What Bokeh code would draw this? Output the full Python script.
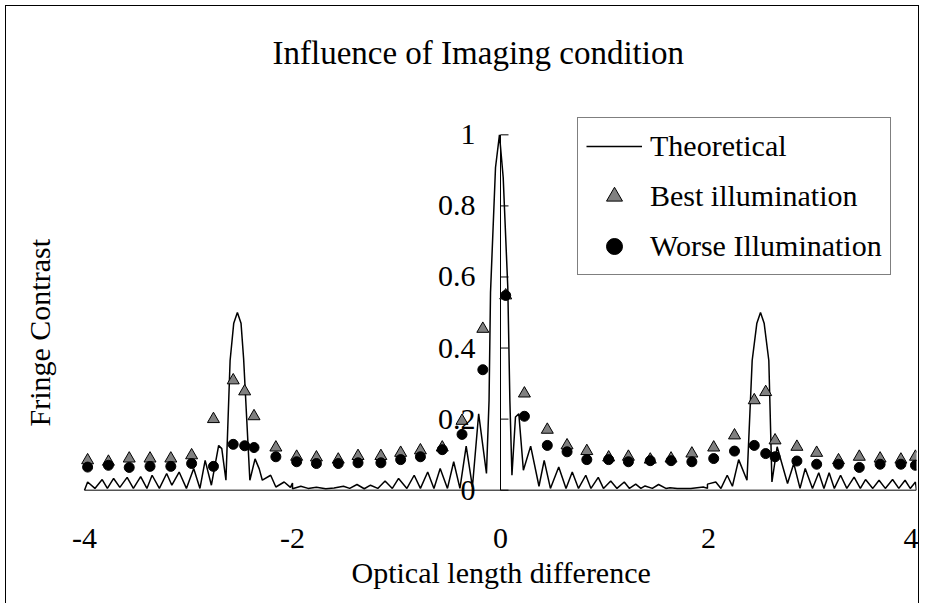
import math
from bokeh.plotting import figure
from bokeh.models import (ColumnDataSource, Legend, LegendItem, LabelSet,
                          FixedTicker, Title)
from bokeh.embed import file_html
from bokeh.resources import INLINE

# ---------------- data ----------------
x_theory = [-4.00, -3.97, -3.90, -3.83, -3.78, -3.72, -3.66, -3.59, -3.53, -3.46,
            -3.40, -3.35, -3.28, -3.21, -3.16, -3.09, -3.02, -2.95, -2.89, -2.84,
            -2.78, -2.71, -2.68, -2.64, -2.60, -2.565, -2.53, -2.495, -2.47, -2.41,
            -2.36, -2.32, -2.29, -2.21, -2.16, -2.08, -2.02, -2.00, -2.00, -1.92,
            -1.85, -1.77, -1.68, -1.60, -1.51, -1.45, -1.38, -1.31, -1.25, -1.18,
            -1.11, -1.04, -0.98, -0.90, -0.83, -0.77, -0.70, -0.64, -0.58, -0.51,
            -0.45, -0.39, -0.33, -0.27, -0.21, -0.135, -0.11, -0.096, -0.048, -0.01,
            0.026, 0.07, 0.09, 0.11, 0.144, 0.176, 0.22, 0.29, 0.37, 0.42,
            0.48, 0.56, 0.63, 0.69, 0.75, 0.82, 0.87, 0.94, 0.99, 1.06,
            1.12, 1.19, 1.24, 1.30, 1.35, 1.39, 1.46, 1.52, 1.59, 1.63,
            1.70, 1.83, 1.95, 1.99, 1.99, 2.07, 2.12, 2.18, 2.23, 2.29,
            2.37, 2.42, 2.465, 2.50, 2.535, 2.58, 2.61, 2.66, 2.76, 2.82,
            2.88, 2.93, 3.00, 3.06, 3.11, 3.16, 3.21, 3.27, 3.33, 3.40,
            3.46, 3.51, 3.58, 3.64, 3.70, 3.77, 3.83, 3.89, 3.94, 3.99,
            4.00]
y_theory = [0.000, 0.023, 0.005, 0.030, 0.005, 0.033, 0.008, 0.036, 0.005, 0.038,
            0.005, 0.042, 0.005, 0.047, 0.014, 0.051, 0.005, 0.061, 0.005, 0.084,
            0.014, 0.126, 0.117, 0.028, 0.365, 0.470, 0.500, 0.470, 0.370, 0.028,
            0.088, 0.060, 0.028, 0.042, 0.009, 0.023, 0.008, 0.020, 0.004, 0.011,
            0.005, 0.008, 0.004, 0.006, 0.011, 0.005, 0.016, 0.004, 0.014, 0.005,
            0.026, 0.005, 0.033, 0.005, 0.042, 0.005, 0.051, 0.005, 0.061, 0.005,
            0.080, 0.005, 0.124, 0.009, 0.215, 0.047, 0.253, 0.557, 0.908, 1.000,
            0.880, 0.571, 0.253, 0.042, 0.206, 0.215, 0.056, 0.124, 0.011, 0.084,
            0.005, 0.065, 0.005, 0.051, 0.005, 0.042, 0.005, 0.036, 0.005, 0.026,
            0.005, 0.023, 0.005, 0.017, 0.005, 0.012, 0.005, 0.016, 0.005, 0.007,
            0.005, 0.005, 0.009, 0.005, 0.017, 0.023, 0.005, 0.042, 0.011, 0.086,
            0.028, 0.365, 0.470, 0.500, 0.470, 0.365, 0.023, 0.122, 0.019, 0.075,
            0.005, 0.061, 0.005, 0.049, 0.005, 0.049, 0.005, 0.042, 0.005, 0.037,
            0.005, 0.030, 0.005, 0.028, 0.005, 0.030, 0.005, 0.028, 0.005, 0.023,
            0.000]

x_meas = [-3.97, -3.77, -3.57, -3.37, -3.17, -2.97, -2.76, -2.57, -2.46, -2.37,
          -2.16, -1.96, -1.77, -1.56, -1.37, -1.15, -0.96, -0.77, -0.56, -0.37,
          -0.17, 0.05, 0.23, 0.45, 0.64, 0.83, 1.04, 1.23, 1.44, 1.64,
          1.84, 2.05, 2.25, 2.44, 2.55, 2.64, 2.85, 3.04, 3.25, 3.45,
          3.65, 3.85, 3.99]
best_illum = [0.084, 0.080, 0.089, 0.089, 0.089, 0.098, 0.200, 0.309, 0.278, 0.208,
              0.120, 0.094, 0.092, 0.086, 0.096, 0.096, 0.105, 0.112, 0.120, 0.195,
              0.454, 0.548, 0.272, 0.170, 0.126, 0.110, 0.092, 0.094, 0.086, 0.089,
              0.103, 0.120, 0.154, 0.253, 0.276, 0.140, 0.122, 0.105, 0.084, 0.094,
              0.089, 0.086, 0.094]
worse_illum = [0.065, 0.070, 0.064, 0.067, 0.067, 0.075, 0.067, 0.129, 0.125, 0.120,
               0.094, 0.080, 0.075, 0.075, 0.077, 0.077, 0.086, 0.094, 0.114, 0.157,
               0.339, 0.548, 0.208, 0.126, 0.108, 0.086, 0.086, 0.080, 0.083, 0.083,
               0.080, 0.089, 0.110, 0.126, 0.103, 0.094, 0.082, 0.073, 0.073, 0.064,
               0.073, 0.073, 0.070]

x_ticks = [-4, -2, 0, 2, 4]
x_tick_labels = ["-4", "-2", "0", "2", "4"]
y_ticks = [0, 0.2, 0.4, 0.6, 0.8, 1.0]
y_tick_labels = ["0", "0.2", "0.4", "0.6", "0.8", "1"]

title_text = "Influence of Imaging condition"
x_title = "Optical length difference"
y_title = "Fringe Contrast"
series_names = ["Theoretical", "Best illumination", "Worse Illumination"]

FONT = "Liberation Serif"

# ---------------- figure ----------------
# frame spans a little beyond the data on the left and top so that the
# titles placed next to it land where the original has them
p = figure(width=914, height=598, x_range=(-4.2308, 4), y_range=(-0.06, 1.167),
           output_backend="svg", toolbar_location=None, y_axis_location=None,
           min_border_left=54, min_border_right=4, min_border_top=69,
           min_border_bottom=93)
p.styles = {"margin": "5px 0px 0px 5px",
            "border-left": "1px solid #000",
            "border-top": "1px solid #000",
            "border-right": "1px solid #000"}
p.grid.visible = False
p.outline_line_color = None
p.background_fill_color = "white"
p.border_fill_color = "white"

p.title = Title(text=title_text, align="left", offset=212, standoff=10,
                text_font=FONT, text_font_size="33px",
                text_font_style="normal", text_color="black")
p.add_layout(Title(text=y_title, align="left", offset=85, standoff=10,
                   text_font=FONT, text_font_size="30px",
                   text_font_style="normal", text_color="black"), "left")

xa = p.xaxis[0]
xa.ticker = FixedTicker(ticks=x_ticks)
xa.major_label_overrides = {t: s for t, s in zip(x_ticks, x_tick_labels)}
xa.major_tick_in = 0
xa.major_tick_out = 0
xa.minor_tick_in = 0
xa.minor_tick_out = 0
xa.major_label_standoff = 17
xa.major_label_text_font = FONT
xa.major_label_text_font_size = "30px"
xa.major_label_text_color = "black"
xa.axis_line_color = None

p.add_layout(Title(text=x_title, align="left", offset=291, standoff=6,
                   vertical_align="bottom",
                   text_font=FONT, text_font_size="30px",
                   text_font_style="normal", text_color="black"), "below")

# horizontal category axis line at y = 0
p.segment(x0=[x_ticks[0]], y0=[0], x1=[x_ticks[-1]], y1=[0],
          line_color="black", line_width=1)

# vertical value axis crossing at x = 0
p.segment(x0=[0], y0=[y_ticks[0]], x1=[0], y1=[y_ticks[-1]],
          line_color="black", line_width=1)
tick_len = 8 / 104.0
p.segment(x0=[0] * len(y_ticks), y0=y_ticks, x1=[tick_len] * len(y_ticks),
          y1=y_ticks, line_color="black", line_width=1)
ylab_src = ColumnDataSource(dict(x=[-0.24] * len(y_ticks), y=y_ticks,
                                 text=y_tick_labels))
p.add_layout(LabelSet(x="x", y="y", text="text", source=ylab_src,
                      text_align="right", text_baseline="middle",
                      text_font=FONT, text_font_size="30px",
                      text_color="black"))

# data
r_line = p.line(x_theory, y_theory, line_color="black", line_width=1.5)
r_best = p.scatter(x_meas, best_illum, marker="triangle", size=12,
                   fill_color="#808080", line_color="black", line_width=1)
r_worse = p.scatter(x_meas, worse_illum, marker="circle", size=10,
                    fill_color="black", line_color="black")

legend = Legend(items=[LegendItem(label=series_names[0], renderers=[r_line]),
                       LegendItem(label=series_names[1], renderers=[r_best]),
                       LegendItem(label=series_names[2], renderers=[r_worse])],
                location=(517, 236), orientation="vertical",
                label_text_font=FONT, label_text_font_size="30px",
                label_text_color="black",
                glyph_width=56, glyph_height=40, label_height=40,
                label_standoff=8, spacing=10, padding=8, margin=0,
                border_line_color="black", border_line_width=1,
                background_fill_color="white", background_fill_alpha=1.0)
p.add_layout(legend)

open("out.html", "w").write(file_html(p, INLINE))
